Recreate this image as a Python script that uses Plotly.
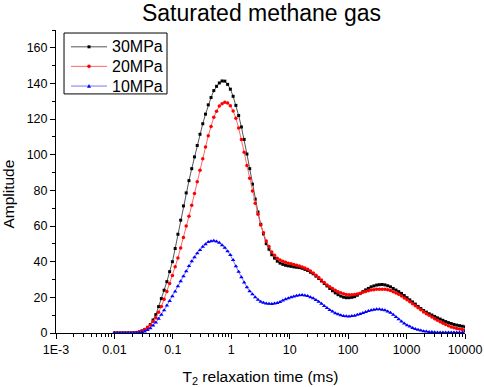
import numpy as np
import plotly.graph_objects as go

# T2 relaxation time grid (ms): 128 log-spaced points, 0.01 .. 10000
t2 = np.logspace(-2, 4, 128)

amp_30mpa = [
    0, 0, 0, 0, 0, 0.02, 0.04, 0.1, 0.25, 0.6,
    1.2, 2.0, 3.2, 4.8, 7.3, 10.3, 14.8, 19.3, 24.0, 28.8,
    34.4, 40.0, 47.4, 55.4, 63.3, 71.3, 78.6, 85.5, 92.2, 98.8,
    105.2, 111.5, 117.4, 122.8, 128.0, 132.1, 136.0, 138.4, 140.3, 141.4,
    141.3, 139.5, 136.8, 132.8, 127.7, 122.0, 115.6, 108.6, 100.4, 92.2,
    83.5, 75.1, 67.9, 61.0, 55.6, 50.1, 47.0, 43.9, 42.0, 40.3,
    39.2, 38.5, 38.0, 37.7, 37.4, 37.1, 36.9, 36.7, 36.3, 35.7,
    35.1, 34.1, 33.2, 31.9, 30.6, 29.2, 27.8, 26.4, 25.0, 23.7,
    22.5, 21.5, 20.7, 20.1, 19.8, 19.8, 20.0, 20.4, 21.2, 22.1,
    23.2, 24.2, 25.0, 25.9, 26.4, 26.9, 27.1, 27.2, 27.0, 26.5,
    25.9, 25.0, 24.1, 23.2, 22.2, 21.0, 19.8, 18.6, 17.4, 16.2,
    14.9, 13.7, 12.6, 11.7, 10.8, 10.1, 9.3, 8.5, 7.8, 7.1,
    6.4, 5.8, 5.3, 4.8, 4.4, 4.1, 3.8, 3.5,
]

amp_20mpa = [
    0, 0, 0, 0, 0, 0.02, 0.04, 0.1, 0.25, 0.6,
    1.1, 1.9, 3.1, 4.5, 6.4, 8.6, 11.6, 14.8, 19.0, 23.3,
    27.8, 32.2, 37.1, 42.1, 47.7, 53.6, 60.0, 65.5, 71.7, 78.3,
    84.8, 91.3, 97.7, 104.3, 110.7, 115.9, 121.0, 124.4, 127.3, 128.6,
    129.4, 129.0, 127.5, 124.5, 120.5, 115.0, 108.6, 101.4, 94.0, 86.8,
    79.6, 72.8, 66.6, 60.6, 56.2, 51.6, 48.5, 45.5, 43.6, 42.0,
    41.0, 40.3, 39.7, 39.2, 38.8, 38.4, 38.0, 37.6, 37.0, 36.5,
    35.8, 34.8, 33.7, 32.4, 31.1, 29.7, 28.3, 27.0, 25.9, 24.9,
    24.0, 23.2, 22.6, 22.0, 21.6, 21.4, 21.4, 21.6, 21.9, 22.3,
    22.8, 23.3, 23.7, 24.1, 24.3, 24.5, 24.6, 24.6, 24.5, 24.2,
    23.8, 23.2, 22.5, 21.7, 20.8, 19.7, 18.6, 17.5, 16.4, 15.3,
    14.1, 13.0, 11.8, 10.8, 9.9, 9.0, 8.0, 7.1, 6.3, 5.5,
    4.7, 4.0, 3.4, 2.9, 2.5, 2.2, 1.9, 1.7,
]

amp_10mpa = [
    0, 0, 0, 0, 0, 0.01, 0.03, 0.06, 0.12, 0.3,
    0.5, 0.9, 1.7, 2.7, 4.2, 5.9, 8.0, 10.2, 12.8, 15.4,
    18.0, 20.6, 23.3, 26.2, 29.0, 31.9, 34.7, 37.6, 40.2, 42.5,
    44.7, 46.6, 48.4, 49.8, 51.0, 51.5, 51.8, 51.3, 50.6, 49.3,
    47.8, 45.8, 43.7, 41.0, 37.5, 34.3, 31.3, 28.4, 25.6, 23.4,
    21.7, 20.0, 18.7, 17.6, 17.0, 16.5, 16.4, 16.3, 16.5, 16.9,
    17.4, 18.2, 18.9, 19.5, 20.1, 20.5, 20.9, 21.2, 21.3, 21.1,
    20.7, 20.1, 19.5, 18.5, 17.6, 16.4, 15.2, 14.0, 12.9, 12.0,
    11.1, 10.5, 10.0, 9.6, 9.4, 9.3, 9.5, 9.7, 10.2, 10.7,
    11.2, 11.8, 12.3, 12.8, 13.0, 13.3, 13.3, 13.1, 12.7, 12.1,
    11.3, 10.3, 9.0, 7.7, 6.4, 5.3, 4.4, 3.6, 2.8, 2.3,
    1.8, 1.4, 1.0, 0.8, 0.6, 0.5, 0.4, 0.3, 0.3, 0.3,
    0.3, 0.3, 0.3, 0.3, 0.3, 0.3, 0.3, 0.8,
]

series_names = ["30MPa", "20MPa", "10MPa"]
series_values = [amp_30mpa, amp_20mpa, amp_10mpa]

x_tick_vals = [1e-3, 1e-2, 1e-1, 1, 10, 100, 1000, 10000]
x_tick_text = ["1E-3", "0.01", "0.1", "1", "10", "100", "1000", "10000"]
y_tick_vals = [0, 20, 40, 60, 80, 100, 120, 140, 160]

x_minor = [k * 10.0 ** n for n in range(-3, 4) for k in range(2, 10)]

FONT = "Liberation Sans, Arial, sans-serif"

styles = [
    dict(line="#555555", marker="#000000", symbol="square", size=3),
    dict(line="#ff6666", marker="#ff0000", symbol="circle", size=3.5),
    dict(line="#7777ff", marker="#0000ff", symbol="triangle-up", size=4),
]

fig = go.Figure()
for name, vals, st in zip(series_names, series_values, styles):
    fig.add_trace(go.Scatter(
        x=t2, y=vals, name=name, mode="lines+markers",
        line=dict(color=st["line"], width=1),
        marker=dict(symbol=st["symbol"], size=st["size"], color=st["marker"]),
        showlegend=False,
    ))

# ---- hand-built legend box (paper coordinates) ----
shapes = [dict(type="rect", xref="paper", yref="paper",
               x0=0.0196, x1=0.2714, y0=0.789, y1=0.990,
               line=dict(color="black", width=1), fillcolor="white",
               layer="above")]
annotations = []
entry_y = [0.9445, 0.880, 0.815]
for name, st, yy in zip(series_names, styles, entry_y):
    shapes.append(dict(type="line", xref="paper", yref="paper",
                       x0=0.0367, x1=0.1247, y0=yy, y1=yy,
                       line=dict(color=st["line"], width=1), layer="above"))
    xc = 0.0807
    if st["symbol"] == "square":
        shapes.append(dict(type="rect", xref="paper", yref="paper",
                           xsizemode="pixel", ysizemode="pixel",
                           xanchor=xc, yanchor=yy,
                           x0=-1.5, x1=1.5, y0=-1.5, y1=1.5,
                           line=dict(width=0), fillcolor=st["marker"],
                           layer="above"))
    elif st["symbol"] == "circle":
        shapes.append(dict(type="circle", xref="paper", yref="paper",
                           xsizemode="pixel", ysizemode="pixel",
                           xanchor=xc, yanchor=yy,
                           x0=-1.8, x1=1.8, y0=-1.8, y1=1.8,
                           line=dict(width=0), fillcolor=st["marker"],
                           layer="above"))
    else:
        shapes.append(dict(type="path", xref="paper", yref="paper",
                           xsizemode="pixel", ysizemode="pixel",
                           xanchor=xc, yanchor=yy,
                           path="M-2,-1.6 L2,-1.6 L0,2 Z",
                           line=dict(width=0), fillcolor=st["marker"],
                           layer="above"))
    annotations.append(dict(text=name, xref="paper", yref="paper",
                            x=0.131, y=yy, xanchor="left", yanchor="middle",
                            showarrow=False, font=dict(size=16, family=FONT)))

# y-axis title as annotation (placed a bit below the axis centre, as in the source)
annotations.append(dict(text="Amplitude", xref="paper", yref="paper",
                        x=-0.115, y=0.46, xanchor="center", yanchor="middle",
                        textangle=-90, showarrow=False,
                        font=dict(size=15.5, family=FONT)))

fig.update_layout(
    width=484, height=387,
    margin=dict(l=56, r=19, t=30, b=54, autoexpand=False),
    paper_bgcolor="white", plot_bgcolor="white",
    font=dict(family=FONT, size=12.5, color="black"),
    title=dict(text="Saturated methane gas", x=0.5403, xanchor="center",
               y=0.987, yanchor="top", font=dict(size=23, family=FONT)),
    showlegend=False,
    shapes=shapes,
    annotations=annotations,
    xaxis=dict(
        type="log", range=[-3, 4], automargin=False,
        tickmode="array", tickvals=x_tick_vals, ticktext=x_tick_text,
        ticks="outside", ticklen=5, tickwidth=1, tickcolor="black",
        showline=True, linecolor="black", linewidth=1, mirror=False,
        showgrid=False, zeroline=False,
        tickfont=dict(size=12.5),
        minor=dict(tickmode="array", tickvals=x_minor, ticks="outside",
                   ticklen=3, tickcolor="black", showgrid=False),
        title=dict(text="T<sub>2</sub> relaxation time (ms)",
                   font=dict(size=15.5), standoff=18),
    ),
    yaxis=dict(
        range=[0, 170], automargin=False,
        tickmode="array", tickvals=y_tick_vals,
        ticks="outside", ticklen=5, tickwidth=1, tickcolor="black",
        showline=True, linecolor="black", linewidth=1, mirror=False,
        showgrid=False, zeroline=False,
        tickfont=dict(size=12.5),
        minor=dict(dtick=10, ticks="outside", ticklen=3,
                   tickcolor="black", showgrid=False),
    ),
)

fig.write_html("out.html",
               config={"displayModeBar": False},
               post_script="document.body.style.margin='0px';")
